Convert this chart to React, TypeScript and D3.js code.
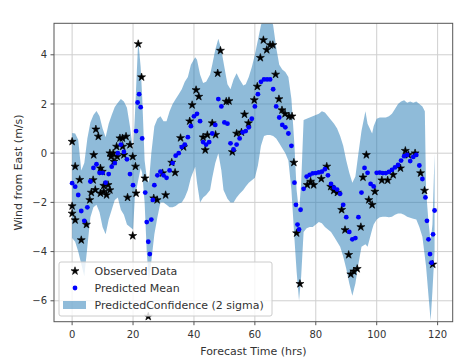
import React from 'react';
import * as d3 from 'd3';

// axis ticks
const xTicks = [0, 20, 40, 60, 80, 100, 120];
const yTicks = [-6, -4, -2, 0, 2, 4];

// observed data (hours, m/s)
const obsHours = [
  0, 1, 0, 0, 1, 2.5, 3, 4.7, 5.8, 6.3, 6.9, 7.1, 7.8, 8.6, 7.6, 9.3, 10.4, 11.3, 10.4, 9.9,
  9.3, 11.8, 12.4, 12.4, 12.8, 13.5, 13.7, 14.6, 14.8, 15.7, 16.5, 16.6, 17, 17.7, 18.2, 19, 19.9, 20.8, 21, 19.9,
  21.7, 22.8, 23.9, 25, 26.8, 27.9, 29.7, 30.7, 32.7, 33.8, 35.6, 36.6, 38.6, 39.4, 40.7, 41.6, 43, 43.7, 44.4, 46,
  47.1, 47.8, 48.7, 50.6, 51.5, 52.6, 54, 55.6, 56.6, 57.9, 59.8, 60.8, 61.8, 62.8, 63.9, 65, 65.9, 66.8, 67.9, 68.9,
  69.9, 71.2, 72.2, 72.8, 73.7, 74.8, 77.2, 78.3, 79.3, 81.8, 83.6, 84.9, 85.9, 87.1, 88.5, 89.6, 90.8, 91.5, 92.5, 93.6,
  94.8, 95.5, 96.6, 97.4, 98.5, 99.4, 101.7, 103.6, 105.4, 107.8, 109.4, 110.4, 112.6, 114.4, 115.7, 118.4,
];
const obsWind = [
  0.47, -0.54, -2.15, -2.45, -2.72, -1.08, -3.53, -2.9, -1.9, -1.6, -1.09, -0.07, 0.97, 0.68, -1.49, -1.63, -1.56, -1.7, -1.32, -0.75,
  -0.61, -1.29, -1.5, 0.0, -0.14, 0.0, -0.34, 0.27, -0.14, 0.61, 0.61, 0.27, -0.07, 0.68, -1.8, 0.34, -0.14, -0.54, -1.63, -3.36,
  4.44, 3.09, -1.02, -6.64, -1.83, -1.9, -0.81, -1.7, -0.38, -0.79, 0.62, 0.25, 1.3, 1.96, 2.57, 2.3, 0.65, 0.13, 0.74, 1.22,
  0.75, 3.25, 4.17, 2.1, 2.12, 0.05, 0.8, 0.85, 1.58, 1.22, 2.16, 2.71, 3.88, 4.6, 4.2, 4.4, 4.4, 3.2, 2.2, 1.75,
  1.6, 1.5, 1.5, -0.38, -3.25, -5.31, -1.29, -1.15, -1.29, -1.04, -0.54, -1.36, -1.52, -1.6, -2.3, -3.12, -4.13, -4.92, -4.8, -4.7,
  -3.0, -0.98, -0.07, -1.9, -2.1, -1.56, -1.1, -1.1, -0.88, -0.61, 0.1, -0.07, 0.0, -0.81, -1.52, -4.52,
];

// predicted mean
const meanHours = [
  0, 1, 2, 3, 4, 5, 6, 7, 8, 9, 10, 11, 12, 13, 14, 15, 16, 17, 18, 19,
  20, 21, 21.5, 22, 22.5, 23, 24, 24.5, 25, 25.5, 26, 26.5, 27, 28, 29, 30, 31, 32, 33, 34,
  35, 36, 37, 38, 39, 40, 41, 42, 43, 44, 45, 46, 47, 48, 49, 50, 51, 52, 53, 54,
  55, 56, 57, 58, 59, 60, 61, 62, 63, 64, 65, 66, 67, 68, 69, 70, 71, 72, 73, 73.5,
  74, 74.5, 75, 76, 77, 78, 79, 80, 81, 82, 83, 84, 85, 86, 87, 88, 89, 90, 91, 92,
  93, 94, 95, 96, 97, 98, 99, 100, 101, 102, 103, 104, 105, 106, 107, 108, 109, 110, 111, 112,
  113, 114, 115, 116, 116.5, 117, 117.5, 118, 118.5, 119,
];
const meanWind = [
  -1.22, -1.36, -1.7, -2.35, -2.75, -2.2, -1.15, -0.6, -0.45, -0.8, -0.8, -1.2, -0.85, -0.55, -0.4, 0.0, 0.35, 0.05, -0.25, -0.85,
  -1.3, 0.9, 2.06, 2.4, 1.87, 0.6, -1.6, -2.8, -3.6, -4.1, -2.7, -1.9, -1.3, -0.9, -0.75, -0.9, -1.0, -0.7, -0.4, -0.1,
  0.0, 0.25, 0.35, 0.65, 1.1, 1.5, 1.6, 1.3, 0.45, 0.35, 0.45, 0.8, 1.15, 2.2, 1.9, 1.25, 1.2, 0.4, 0.15, 0.35,
  0.6, 0.85, 0.9, 1.05, 1.4, 1.9, 2.4, 2.9, 3.0, 3.0, 3.0, 2.6, 1.9, 1.45, 1.15, 1.05, 0.8, 0.3, -1.2, -2.1,
  -2.9, -3.1, -2.3, -1.45, -0.95, -0.88, -0.82, -0.81, -0.78, -0.75, -0.65, -0.9, -1.25, -1.4, -1.48, -1.65, -2.1, -2.6, -3.2, -3.5,
  -3.45, -2.6, -1.6, -0.6, -0.8, -1.25, -1.35, -0.8, -0.79, -0.81, -0.81, -0.76, -0.68, -0.58, -0.48, -0.3, -0.12, -0.07, -0.32, -0.15,
  -0.07, -0.5, -1.05, -1.8, -2.75, -3.5, -4.1, -4.45, -3.3, -2.33,
];

// 2 sigma band
const bandHours = [
  0, 1, 2, 3, 4, 5, 6, 7, 8, 9, 10, 11, 12, 13, 14, 15, 16, 17, 18, 19,
  20, 20.6, 21.7, 22.5, 23, 23.8, 24.5, 25.2, 26, 27, 28, 29, 30, 31, 32, 33, 34, 35, 36, 37,
  38, 39, 40.4, 41, 42, 43, 44, 45.3, 46, 47, 48, 49, 49.7, 51, 52, 53, 54, 55, 56.2, 57,
  58, 59, 60, 61, 62, 63, 64, 65, 66, 67, 68, 69, 70, 71, 72, 73, 73.7, 74.5, 75.2, 76,
  77, 78, 79, 80, 81, 82, 83, 84, 85, 86, 87, 88, 89, 90, 91, 92, 93, 94, 95, 96.3,
  97, 98.5, 99, 100, 101, 102, 103, 104, 105, 106, 107, 108, 109, 110, 111, 112, 113, 114, 115, 115.8,
  116.2, 117, 117.7, 118.3, 119,
];
const bandUpper = [
  0.82, 0.8, 0.55, -0.7, -0.4, 0.6, 1.25, 1.55, 1.72, 1.5, 1.0, 0.65, 1.2, 1.55, 1.88, 2.05, 2.2, 2.1, 1.85, 1.07,
  0.1, 1.5, 4.6, 3.5, 2.3, -0.3, -1.0, -1.2, 0.0, 1.1, 1.4, 1.5, 1.3, 1.3, 1.7, 2.0, 2.2, 2.4, 2.6, 2.9,
  3.1, 3.6, 3.9, 3.8, 3.2, 2.85, 2.9, 3.2, 3.6, 4.2, 4.65, 4.2, 3.7, 2.8, 2.6, 3.0, 3.25, 3.0, 2.75, 2.8,
  3.1, 3.5, 4.0, 4.6, 5.2, 5.6, 5.6, 5.6, 5.2, 4.3, 3.6, 3.4, 3.3, 3.1, 2.2, 0.3, -1.5, -2.4, -1.2, 1.35,
  1.4, 1.45, 1.5, 1.55, 1.6, 1.7, 1.65, 1.5, 1.35, 1.2, 1.0, 0.7, 0.3, -0.3, -0.8, -1.2, -0.95, 0.0, 0.9, 1.7,
  1.2, 0.8, 1.1, 1.4, 1.45, 1.45, 1.45, 1.5, 1.6, 1.8, 2.0, 2.1, 2.15, 2.05, 2.1, 2.05, 2.1, 2.0, 1.9, 1.7,
  -1.5, -2.8, -3.6, -2.9, 0.0,
];
const bandLower = [
  -3.45, -3.6, -4.0, -4.5, -5.0, -3.8, -2.6, -2.2, -2.1, -2.4, -3.0, -3.3, -2.7, -2.3, -1.9, -1.8, -2.3, -2.5, -2.9, -3.0,
  -3.1, -1.8, -1.1, -0.6, -0.8, -2.0, -4.0, -5.2, -4.4, -3.3, -2.6, -2.0, -2.0, -2.1, -2.2, -2.2, -2.15, -2.05, -2.0, -1.8,
  -1.5, -1.0, -0.55, -1.2, -2.0, -1.8, -1.7, -1.5, -1.0, -0.4, 0.0, -0.7, -1.5, -1.85, -2.0, -2.0, -1.8, -1.65, -1.5, -1.35,
  -1.2, -1.1, -1.0, -0.5, 0.3, 0.7, 0.74, 0.74, 0.7, 0.6, 0.4, 0.2, 0.0, -0.3, -1.5, -3.5, -4.8, -6.0, -5.0, -3.2,
  -3.05, -3.0, -3.0, -2.9, -2.8, -2.85, -3.0, -3.1, -3.2, -3.4, -3.6, -3.8, -4.2, -4.7, -5.3, -5.8, -5.3, -4.5, -3.8, -3.7,
  -3.8, -3.1, -2.9, -2.7, -2.6, -2.58, -2.58, -2.6, -2.58, -2.5, -2.45, -2.45, -2.5, -2.58, -2.62, -2.66, -2.7, -3.0, -3.4, -4.2,
  -4.6, -5.8, -6.8, -5.6, -4.0,
];

const W = 472;
const H = 364;
const left = 54;
const right = 452.7;
const top = 23.3;
const bottom = 321.7;
const font = 'DejaVu Sans, sans-serif';

export default function App() {
  const x = d3.scaleLinear().domain([-5.95, 124.95]).range([left, right]);
  const y = d3.scaleLinear().domain([-6.85, 5.28]).range([bottom, top]);

  const band = d3
    .area<number>()
    .x(i => x(bandHours[i]))
    .y0(i => y(bandLower[i]))
    .y1(i => y(bandUpper[i]));
  const bandPath = band(d3.range(bandHours.length)) || '';

  const star = d3.symbol(d3.symbolStar, 20)() || '';

  return (
    <svg
      width={W}
      height={H}
      style={{ position: 'absolute', left: 0, top: 0, background: '#fff' }}
      fontFamily={font}
    >
      <defs>
        <clipPath id="plot">
          <rect x={left} y={top} width={right - left} height={bottom - top} />
        </clipPath>
      </defs>

      {/* grid */}
      {xTicks.map(t => (
        <line key={'gx' + t} x1={x(t)} x2={x(t)} y1={top} y2={bottom} stroke="#cfcfcf" strokeWidth={1} />
      ))}
      {yTicks.map(t => (
        <line key={'gy' + t} x1={left} x2={right} y1={y(t)} y2={y(t)} stroke="#cfcfcf" strokeWidth={1} />
      ))}

      <g clipPath="url(#plot)">
        <path d={bandPath} fill="#1f77b4" fillOpacity={0.5} />
        {obsHours.map((h, i) => (
          <path
            key={'o' + i}
            d={star}
            transform={`translate(${x(h)},${y(obsWind[i])})`}
            fill="#000"
            stroke="#000"
            strokeWidth={0.6}
          />
        ))}
        {meanHours.map((h, i) => (
          <circle key={'m' + i} cx={x(h)} cy={y(meanWind[i])} r={2.4} fill="#0000ff" />
        ))}
      </g>

      {/* frame */}
      <rect x={left} y={top} width={right - left} height={bottom - top} fill="none" stroke="#555" strokeWidth={1} />

      {/* x axis */}
      {xTicks.map(t => (
        <g key={'tx' + t}>
          <line x1={x(t)} x2={x(t)} y1={bottom} y2={bottom + 3.5} stroke="#555" />
          <text x={x(t)} y={338} fontSize={10} textAnchor="middle" fill="#333">
            {t}
          </text>
        </g>
      ))}
      {/* y axis */}
      {yTicks.map(t => (
        <g key={'ty' + t}>
          <line x1={left - 3.5} x2={left} y1={y(t)} y2={y(t)} stroke="#555" />
          <text x={47} y={y(t) + 3.6} fontSize={10} textAnchor="end" fill="#333">
            {t < 0 ? '\u2212' + Math.abs(t) : t}
          </text>
        </g>
      ))}

      <text x={(left + right) / 2} y={355} fontSize={11} textAnchor="middle" fill="#333">
        Forecast Time (hrs)
      </text>
      <text
        transform={`translate(22,${(top + bottom) / 2}) rotate(-90)`}
        fontSize={11}
        textAnchor="middle"
        fill="#333"
      >
        Wind from East (m/s)
      </text>

      {/* legend */}
      <g>
        <rect x={59} y={262} width={213} height={54} rx={2} fill="#fff" fillOpacity={0.8} stroke="#cccccc" />
        <path d={star} transform="translate(75,271)" fill="#000" stroke="#000" strokeWidth={0.6} />
        <text x={94.5} y={275} fontSize={11} fill="#333">Observed Data</text>
        <circle cx={75} cy={288} r={2.4} fill="#0000ff" />
        <text x={94.5} y={292} fontSize={11} fill="#333">Predicted Mean</text>
        <rect x={63} y={301} width={23} height={8} fill="#1f77b4" fillOpacity={0.5} />
        <text x={94.5} y={309} fontSize={11} fill="#333">PredictedConfidence (2 sigma)</text>
      </g>
    </svg>
  );
}
